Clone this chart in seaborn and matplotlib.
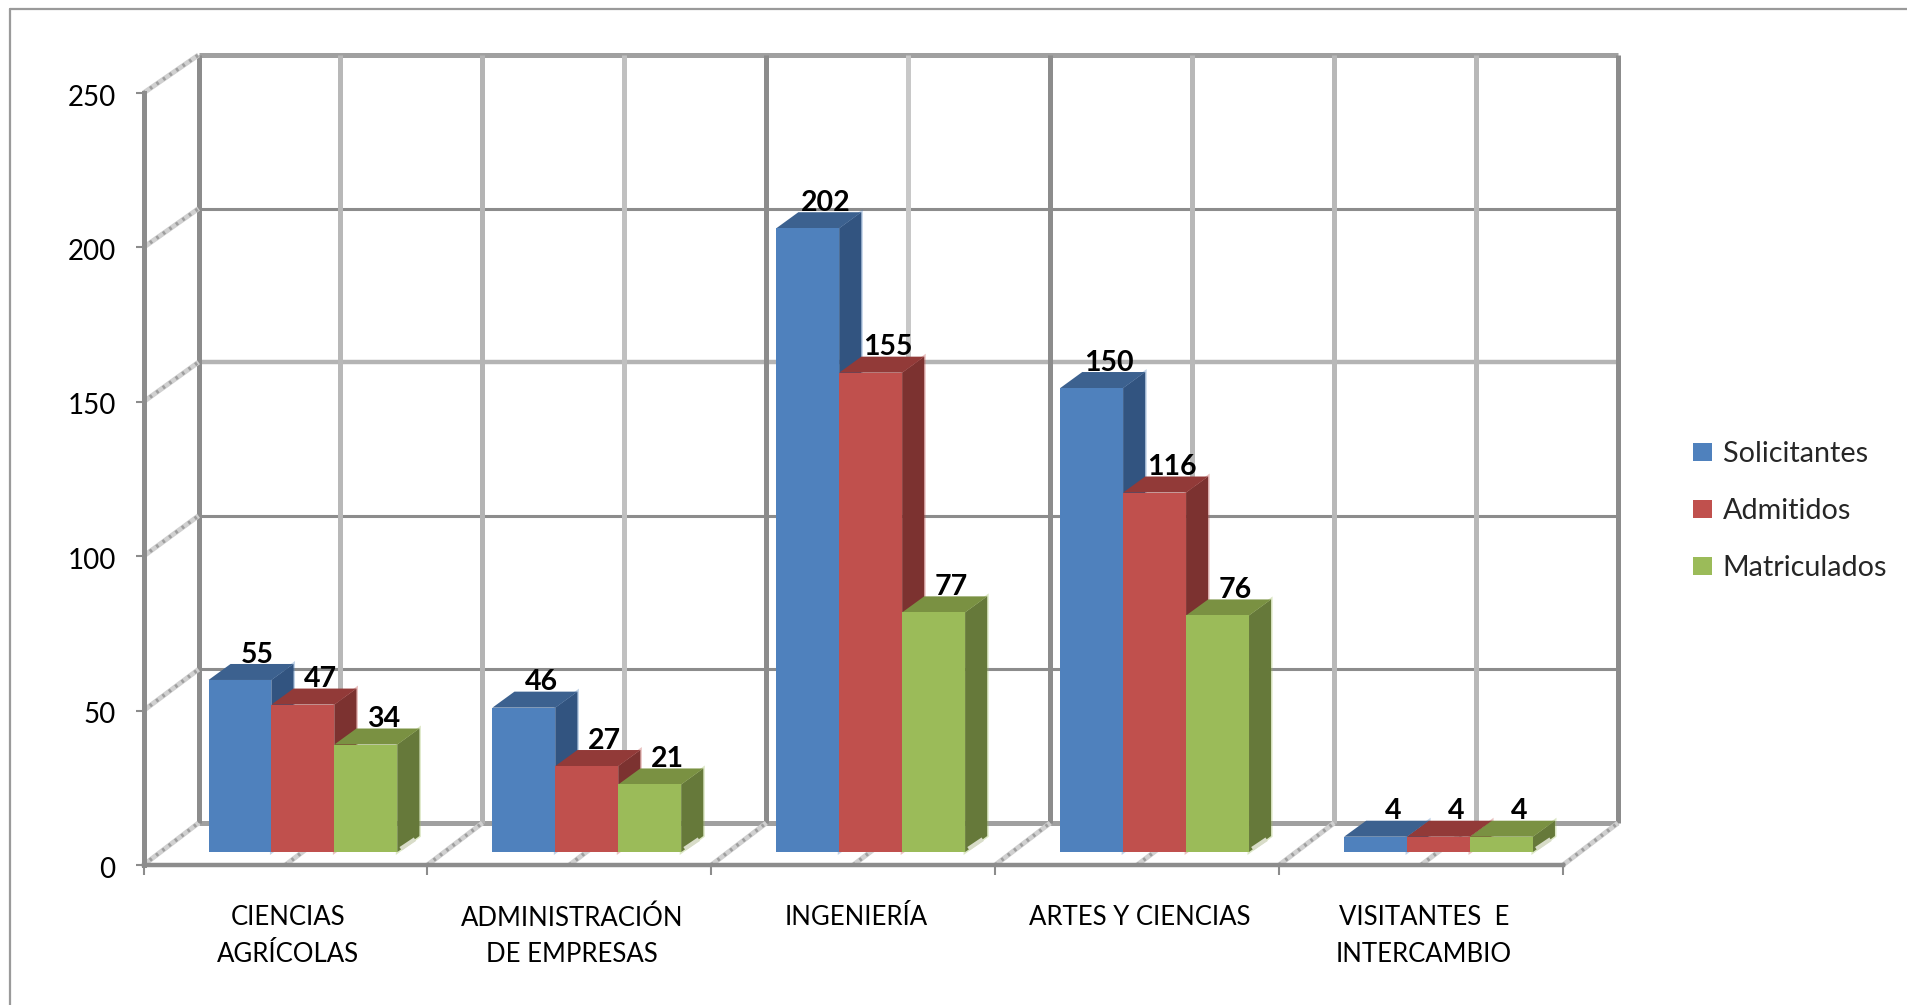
import pandas as pd
import numpy as np
import matplotlib.pyplot as plt
import seaborn as sns
from matplotlib.patches import Polygon
from matplotlib.transforms import ScaledTranslation

carreras = ['CIENCIAS\nAGRÍCOLAS', 'ADMINISTRACIÓN\nDE EMPRESAS', 'INGENIERÍA',
            'ARTES Y CIENCIAS', 'VISITANTES  E\nINTERCAMBIO']
solicitantes = [55, 46, 202, 150, 4]
admitidos = [47, 27, 155, 116, 4]
matriculados = [34, 21, 77, 76, 4]
series = ['Solicitantes', 'Admitidos', 'Matriculados']
y_ticks = [0, 50, 100, 150, 200, 250]

colores = ['#4F81BD', '#C0504D', '#9BBB59']
lado = ['#325480', '#7C3230', '#66793A']
tapa = ['#3C618F', '#923A38', '#7A9142']

# tonos de las lineas del fondo (una por cada media categoria)
muro_v = ['#8c8c8c', '#b8b8b8', '#b4b4b4', '#c0c0c0', '#8c8c8c', '#c8c8c8',
          '#8c8c8c', '#b8b8b8', '#b8b8b8', '#b8b8b8', '#8c8c8c']
muro_h = [('#a0a0a0', 3.6), ('#8c8c8c', 2.2), ('#8c8c8c', 2.2),
          ('#b4b4b4', 3.2), ('#8c8c8c', 2.2), ('#a0a0a0', 3.6)]

W, H = 1907, 1005
x0, x1, y0, y1 = 143.5, 1563, 865, 93
px_cat = (x1 - x0) / 5
px_val = (y0 - y1) / 250

df = pd.DataFrame({
    'carrera': carreras * 3,
    'serie': np.repeat(series, 5),
    'valor': solicitantes + admitidos + matriculados,
})

sns.set_theme(style='white')
plt.rcParams['font.family'] = ['Lato', 'DejaVu Sans']

fig = plt.figure(figsize=(W / 100, H / 100), dpi=100)


def caja(dx=0, abajo=0, arriba=0):
    # abajo / arriba: pixeles que sube cada extremo del eje respecto al plano frontal
    return [(x0 + dx) / W, 1 - (y0 - abajo) / H, (x1 - x0) / W, (y0 - abajo - y1 + arriba) / H]


def escala(a):
    a.set_xlim(-0.5, 4.5)
    a.set_ylim(0, 250)
    a.patch.set_alpha(0)


# marco del grafico
fig.add_artist(plt.Line2D([10 / W, 10 / W], [0, 1 - 9 / H], color='#9a9a9a', lw=1.6))
fig.add_artist(plt.Line2D([10 / W, 1], [1 - 9 / H, 1 - 9 / H], color='#9a9a9a', lw=1.6))

# muro de fondo
muro_dx, muro_abajo, muro_arriba = 55, 42, 38
muro = fig.add_axes(caja(muro_dx, muro_abajo, muro_arriba), zorder=1)
escala(muro)
muro.axis('off')
for v, (c, lw) in zip(y_ticks, muro_h):
    muro.plot([-0.5, 4.5], [v, v], color=c, lw=lw, clip_on=False, solid_capstyle='butt')
for i, c in enumerate(muro_v):
    muro.plot([-0.5 + i / 2] * 2, [0, 250], color=c, lw=3.6, clip_on=False, solid_capstyle='butt')

# plano frontal: ejes, ticks y diagonales
frente = fig.add_axes(caja(), zorder=2)
escala(frente)
sns.despine(ax=frente, top=True, right=True)
frente.spines['left'].set(color='#8c8c8c', linewidth=3.6)
frente.spines['bottom'].set(color='#8c8c8c', linewidth=3.2)
frente.set_yticks(y_ticks)
frente.tick_params(axis='y', length=6, width=1.5, color='#8c8c8c', pad=14, labelsize=20, left=True, labelcolor='black')
baja = ScaledTranslation(0, -2 / 100, fig.dpi_scale_trans)
for t in frente.get_yticklabels():
    t.set_transform(t.get_transform() + baja)
frente.set_xticks(range(5), carreras)
frente.tick_params(axis='x', which='major', length=0, pad=29, labelsize=18.5, labelcolor='black')
frente.set_xticks(np.arange(-0.5, 5), minor=True)
frente.tick_params(axis='x', which='minor', length=7, width=1.5, color='#8c8c8c', bottom=True)
derecha = ScaledTranslation(3 / 100, 0, fig.dpi_scale_trans)
for t in frente.get_xticklabels():
    t.set_linespacing(1.58)
    t.set_transform(t.get_transform() + derecha)


def diagonal(x, v):
    # une el plano frontal con el muro para el valor v
    fin = v + (muro_abajo + (muro_arriba - muro_abajo) * v / 250) / px_val
    frente.plot([x, x + muro_dx / px_cat], [v, fin], color='#d0d0d0', lw=3.6, clip_on=False, solid_capstyle='butt')
    frente.plot([x, x + muro_dx / px_cat], [v, fin], color='#9e9e9e', lw=2.6, ls=(0, (0.7, 1.5)), clip_on=False)


for xd in np.arange(-0.5, 4.6, 0.5):
    diagonal(xd, 0)
for v in y_ticks[1:]:
    diagonal(-0.5, v)

# barras: cara frontal con seaborn, caras lateral y superior a partir de cada barra
sube = 3
barras = fig.add_axes(caja(17.5, 13 + sube), zorder=3)
sns.barplot(df, x='carrera', y='valor', hue='serie', hue_order=series, palette=colores,
            width=0.665, gap=0, saturation=1, linewidth=0, ax=barras)
barras.set_xlim(-0.5, 4.5)
# misma altura que 202 en el plano frontal, con la base extendida hasta el suelo
escala_val = (202 * px_val - sube) / 202
barras.set_ylim(0, barras.get_position().height * H / escala_val)
barras.patch.set_alpha(0)
barras.axis('off')

prof_x = 22 / px_cat
prof_y = 16 / escala_val
pie = sube / escala_val
for s, cont in enumerate(barras.containers):
    for b, val in zip(cont, cont.datavalues):
        b.set_y(-pie)
        b.set_height(val + pie)
        b.set_clip_on(False)
        xa, ancho = b.get_x(), b.get_width()
        xb = xa + ancho
        cara = [(xb, -pie), (xb + prof_x, prof_y - pie), (xb + prof_x, val + prof_y), (xb, val)]
        barras.add_patch(Polygon(cara, fc=lado[s], ec=colores[s], lw=2.2, alpha=0.35, clip_on=False,
                                 zorder=b.get_zorder() - 0.6 + s * 0.01))
        barras.add_patch(Polygon(cara, fc=lado[s], lw=0, clip_on=False, zorder=b.get_zorder() - 0.5 + s * 0.01))
        barras.add_patch(Polygon([(xa, val), (xa + prof_x, val + prof_y), (xb + prof_x, val + prof_y), (xb, val)],
                                 fc=tapa[s], lw=0, clip_on=False, zorder=b.get_zorder() - 0.4 + s * 0.01))
        b.set_zorder(b.get_zorder() + s * 0.02)
        barras.text(xa + ancho / 2 + prof_x * 0.8, val + prof_y - 1.2, f'{val:.0f}', ha='center', va='bottom',
                    fontsize=20.5, fontweight='bold', color='black', zorder=10)
        if s == 2:
            # resto de la diagonal del suelo que asoma sobre la cara verde
            barras.plot([xb + prof_x * 0.15, xb + prof_x * 0.8], [prof_y * 0.2 - pie, prof_y * 0.8 - pie],
                        color='#d8dcc8', lw=3, clip_on=False, zorder=9, solid_capstyle='butt')

sns.move_legend(barras, loc='center left', bbox_to_anchor=(1693 / W, 1 - 511 / H),
                bbox_transform=fig.transFigure, title=None, frameon=False, fontsize=20.7,
                handlelength=0.67, handleheight=0.6, handletextpad=0.36, labelspacing=1.08, borderpad=0, borderaxespad=0)

frente.set_xlabel('')
frente.set_ylabel('')
fig.savefig('out.png', dpi=100)
